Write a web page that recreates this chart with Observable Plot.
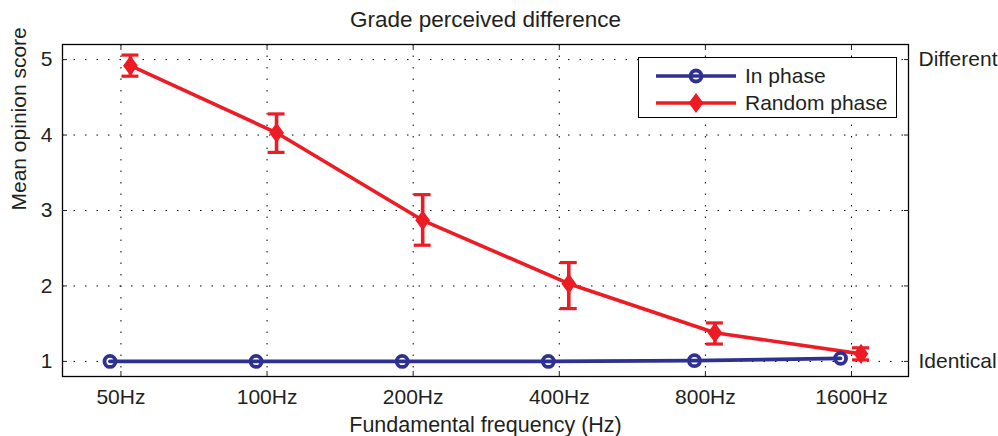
<!DOCTYPE html>
<html>
<head>
<meta charset="utf-8">
<script src="https://cdn.jsdelivr.net/npm/d3@7"></script>
<script src="https://cdn.jsdelivr.net/npm/@observablehq/plot@0.6"></script>
<style>
  html, body { margin: 0; padding: 0; background: #fff; }
  #wrap { position: relative; width: 998px; height: 436px; }
  #legend { position: absolute; left: 638px; top: 57px; width: 257px; height: 59px;
    border: 1.5px solid #000; background: #fff; font-family: "Liberation Sans", Arial, sans-serif;
    font-size: 21px; color: #231f20; }
  #legend .row { position: absolute; left: 0; height: 24px; display: flex; align-items: center; }
  #legend svg { display: block; }
</style>
</head>
<body>
<div id="wrap"></div>
<script>
// ---- data ----
const xLabels = ["50Hz", "100Hz", "200Hz", "400Hz", "800Hz", "1600Hz"];
const inPhase = [1.0, 1.0, 1.0, 1.0, 1.01, 1.04];
const randomPhase = [4.92, 4.03, 2.87, 2.03, 1.38, 1.10];
const randomLow = [4.78, 3.77, 2.54, 1.70, 1.23, 1.02];
const randomHigh = [5.06, 4.28, 3.21, 2.31, 1.51, 1.18];
const yTicks = [1, 2, 3, 4, 5];
const rightTicks = [1, 5];
const rightLabels = ["Identical", "Different"];
const seriesNames = ["In phase", "Random phase"];
const titleText = "Grade perceived difference";
const xTitle = "Fundamental frequency (Hz)";
const yTitle = "Mean opinion score";

// ---- styling ----
const BLUE = "#2e3192";
const RED = "#ed1c24";
const inOffset = -0.075, rndOffset = 0.065, capHalf = 0.058;
const xIdx = d3.range(xLabels.length);

// MATLAB-like diamond marker (slightly taller than wide)
const matlabDiamond = {
  draw(context, size) {
    const r = Math.sqrt(size / Math.PI);
    const hh = 1.25 * r, hw = 0.92 * r;
    context.moveTo(0, -hh);
    context.lineTo(hw, 0);
    context.lineTo(0, hh);
    context.lineTo(-hw, 0);
    context.closePath();
  }
};

const blueData = xIdx.map(i => ({x: i + inOffset, y: inPhase[i]}));
const redData = xIdx.map(i => ({x: i + rndOffset, y: randomPhase[i], lo: randomLow[i], hi: randomHigh[i]}));

const dots = {stroke: "#000", strokeOpacity: 1, strokeDasharray: "1.5,10", strokeWidth: 1};

const chart = Plot.plot({
  width: 998, height: 436,
  marginLeft: 62, marginRight: 90, marginTop: 44, marginBottom: 60,
  style: {fontFamily: "'Liberation Sans', Arial, sans-serif", fontSize: "21px", color: "#231f20", background: "#fff"},
  x: {domain: [-0.4, 5.39]},
  y: {domain: [0.8, 5.2]},
  marks: [
    Plot.gridX(xIdx, dots),
    Plot.gridY(yTicks, dots),
    Plot.line(blueData, {x: "x", y: "y", stroke: BLUE, strokeWidth: 3.6}),
    Plot.line(redData, {x: "x", y: "y", stroke: RED, strokeWidth: 3.6}),
    Plot.ruleX(redData, {x: "x", y1: "lo", y2: "hi", stroke: RED, strokeWidth: 3.6}),
    Plot.ruleY(redData, {y: "lo", x1: d => d.x - capHalf, x2: d => d.x + capHalf, stroke: RED, strokeWidth: 3.2}),
    Plot.ruleY(redData, {y: "hi", x1: d => d.x - capHalf, x2: d => d.x + capHalf, stroke: RED, strokeWidth: 3.2}),
    Plot.dot(blueData, {x: "x", y: "y", r: 5.5, stroke: BLUE, strokeWidth: 3.8, fill: "none"}),
    Plot.dot(redData, {x: "x", y: "y", symbol: matlabDiamond, r: 6, stroke: RED, strokeWidth: 3, fill: RED}),
    Plot.frame({stroke: "#000", strokeWidth: 1.3}),
    Plot.axisX(xIdx, {anchor: "bottom", tickSize: 0, tickPadding: 13, tickFormat: i => xLabels[i], label: null}),
    Plot.axisX(xIdx, {anchor: "bottom", tickSize: -5, tickFormat: () => "", label: null}),
    Plot.axisX(xIdx, {anchor: "top", tickSize: -5, tickFormat: () => "", label: null}),
    Plot.axisY(yTicks, {anchor: "left", tickSize: 0, tickPadding: 10, tickFormat: d3.format("d"), label: null}),
    Plot.axisY(yTicks, {anchor: "left", tickSize: -5, tickFormat: () => "", label: null}),
    Plot.axisY(yTicks, {anchor: "right", tickSize: -5, tickFormat: () => "", label: null}),
    Plot.axisY(rightTicks, {anchor: "right", tickSize: 0, tickPadding: 10, tickFormat: (d, i) => rightLabels[i], label: null}),
    Plot.text([titleText], {text: d => d, frameAnchor: "top", lineAnchor: "middle", dy: -25, fontSize: 22.5}),
    Plot.text([xTitle], {text: d => d, frameAnchor: "bottom", lineAnchor: "middle", dy: 49, fontSize: 21.5}),
    Plot.text([yTitle], {text: d => d, frameAnchor: "left", lineAnchor: "middle", rotate: -90, dx: -43, fontSize: 21})
  ]
});

const wrap = document.getElementById("wrap");
wrap.appendChild(chart);

// legend (HTML overlay)
const legend = document.createElement("div");
legend.id = "legend";
const legendColors = [BLUE, RED];
const legendSymbols = ["circle", "diamond"];
seriesNames.forEach((name, k) => {
  const row = document.createElement("div");
  row.className = "row";
  row.style.top = (6 + k * 27) + "px";
  const sw = d3.create("svg").attr("width", 104).attr("height", 24);
  sw.append("line").attr("x1", 17).attr("x2", 97).attr("y1", 12).attr("y2", 12)
    .attr("stroke", legendColors[k]).attr("stroke-width", 3.6);
  if (legendSymbols[k] === "circle") {
    sw.append("circle").attr("cx", 57).attr("cy", 12).attr("r", 5.5)
      .attr("fill", "none").attr("stroke", legendColors[k]).attr("stroke-width", 3.8);
  } else {
    sw.append("path").attr("transform", "translate(57,12)")
      .attr("d", d3.symbol(matlabDiamond, Math.PI * 6 * 6)())
      .attr("fill", legendColors[k]).attr("stroke", legendColors[k]).attr("stroke-width", 3);
  }
  row.appendChild(sw.node());
  const t = document.createElement("span");
  t.textContent = name;
  t.style.marginLeft = "2px";
  row.appendChild(t);
  legend.appendChild(row);
});
wrap.appendChild(legend);
</script>
</body>
</html>
